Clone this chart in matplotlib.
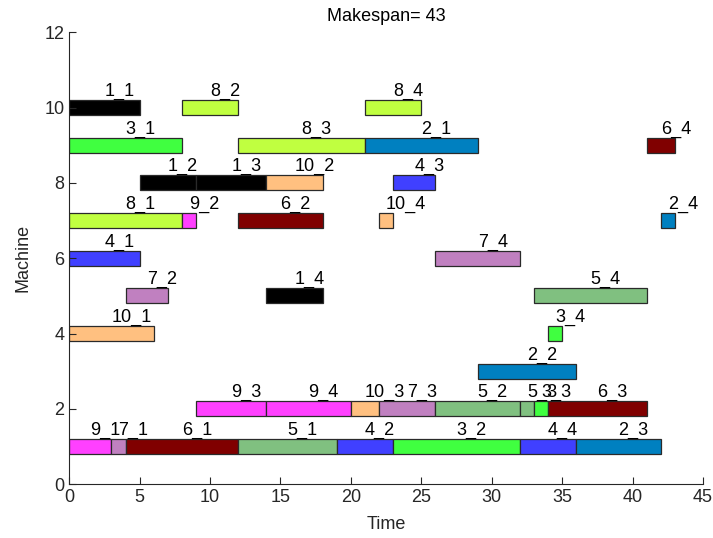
import matplotlib.pyplot as plt

plt.rcParams['font.family'] = ['Liberation Sans', 'DejaVu Sans']

# one entry per operation: job, operation number, machine, start, finish
jobs     = [1, 8, 8,   3, 8, 2, 6,   1, 1, 10, 4,   8, 9, 6, 10, 2,   4, 7,   7, 1, 5,   10, 3,   2,
            9, 9, 10, 7, 5, 5, 3, 6,   9, 7, 6, 5, 4, 3, 4, 2]
ops      = [1, 2, 4,   1, 3, 1, 4,   2, 3, 2, 3,    1, 2, 2, 4, 4,    1, 4,   2, 4, 4,   1, 4,    2,
            3, 4, 3, 3, 2, 3, 3, 3,    1, 1, 1, 1, 2, 2, 4, 3]
machines = [10, 10, 10, 9, 9, 9, 9,  8, 8, 8, 8,    7, 7, 7, 7, 7,    6, 6,   5, 5, 5,   4, 4,    3,
            2, 2, 2, 2, 2, 2, 2, 2,    1, 1, 1, 1, 1, 1, 1, 1]
starts   = [0, 8, 21,  0, 12, 21, 41, 5, 9, 14, 23,  0, 8, 12, 22, 42,  0, 26,  4, 14, 33, 0, 34,  29,
            9, 14, 20, 22, 26, 32, 33, 34,  0, 3, 4, 12, 19, 23, 32, 36]
ends     = [5, 12, 25, 8, 21, 29, 43, 9, 14, 18, 26,  8, 9, 18, 23, 43,  5, 32,  7, 18, 41, 6, 35,  36,
            14, 20, 22, 26, 32, 33, 34, 41, 3, 4, 12, 19, 23, 32, 36, 42]

job_colors = {
    1: '#000000', 2: '#0080c0', 3: '#40ff40', 4: '#4040ff', 5: '#80c080',
    6: '#800000', 7: '#c080c0', 8: '#c0ff40', 9: '#ff40ff', 10: '#ffc080',
}
axis_gray = '#262626'

fig = plt.figure(figsize=(7.13, 5.38), dpi=100)
ax = fig.add_axes([0.097, 0.100, 0.889, 0.840])

for j, o, m, s, e in zip(jobs, ops, machines, starts, ends):
    ax.barh(m, e - s, left=s, height=0.4, color=job_colors[j],
            edgecolor='#2a2a2a', linewidth=0.9)
    ax.text(s + (e - s) / 2, m + 0.43, f'{j}_{o}', ha='left', va='center',
            fontsize=13, color='black')

makespan = max(ends)
ax.set_title(f'Makespan= {makespan}', fontsize=13, pad=8, color='black')
ax.set_xlim(0, 45)
ax.set_ylim(0, 12)
ax.set_xticks(range(0, 46, 5))
ax.set_yticks(range(0, 13, 2))
ax.set_xlabel('Time', fontsize=13, labelpad=7, color=axis_gray)
ax.set_ylabel('Machine', fontsize=13, labelpad=9, color=axis_gray)
ax.tick_params(direction='in', length=5, labelsize=13, width=0.8,
               colors=axis_gray)
ax.spines['top'].set_visible(False)
ax.spines['right'].set_visible(False)
for side in ('left', 'bottom'):
    ax.spines[side].set_color(axis_gray)

fig.savefig('out.png', dpi=100)
